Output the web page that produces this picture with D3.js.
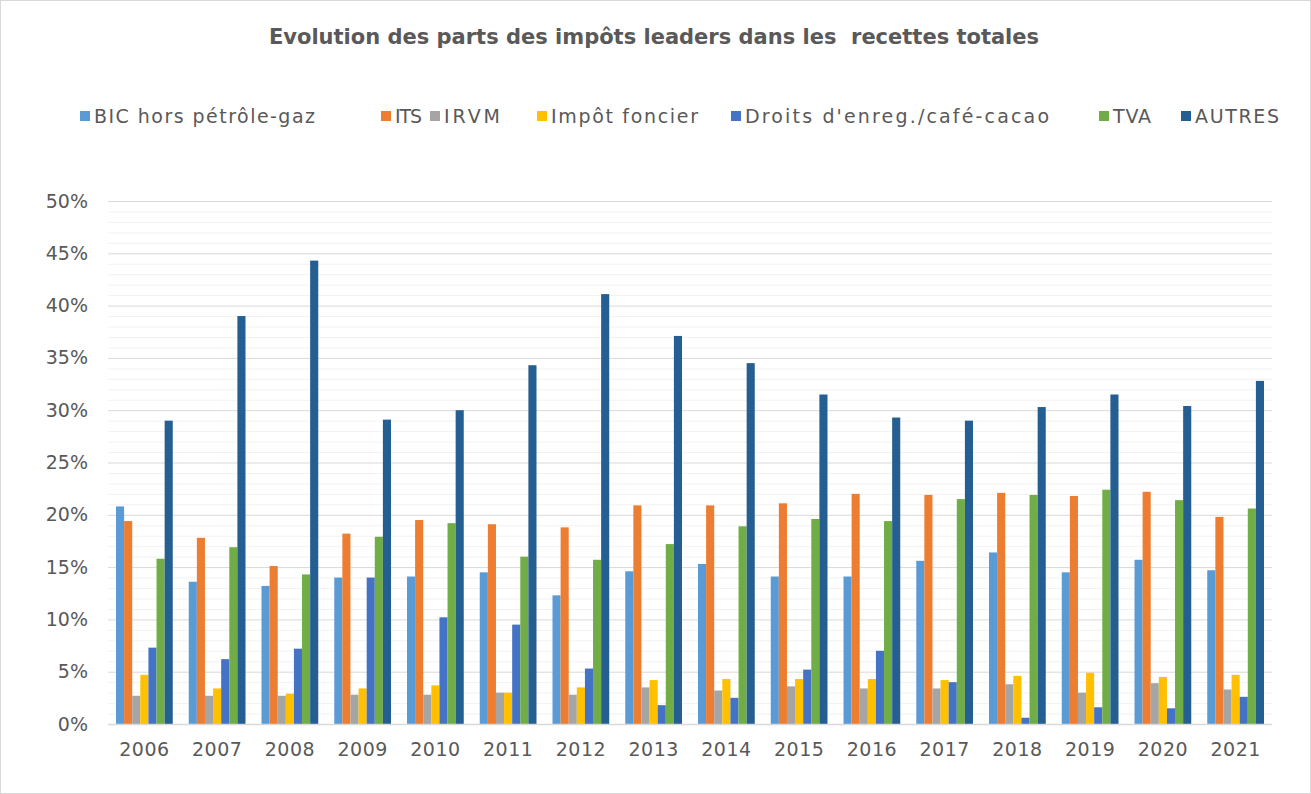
<!DOCTYPE html>
<html>
<head>
<meta charset="utf-8">
<script src="https://cdn.jsdelivr.net/npm/d3@7"></script>
<style>
  body { margin: 0; background: #fff; }
  svg { display: block; }
  text { font-family: "DejaVu Sans", sans-serif; fill: #595959; }
</style>
</head>
<body>
<svg class="chart" width="1311" height="794"></svg>
<script>
const years = ["2006", "2007", "2008", "2009", "2010", "2011", "2012", "2013",
  "2014", "2015", "2016", "2017", "2018", "2019", "2020", "2021"];

const seriesNames = ["BIC hors pétrôle-gaz", "ITS", "IRVM", "Impôt foncier",
  "Droits d'enreg./café-cacao", "TVA", "AUTRES"];

// values in %
const bic    = [20.8, 13.6, 13.2, 14.0, 14.1, 14.5, 12.3, 14.6, 15.3, 14.1, 14.1, 15.6, 16.4, 14.5, 15.7, 14.7];
const its    = [19.4, 17.8, 15.1, 18.2, 19.5, 19.1, 18.8, 20.9, 20.9, 21.1, 22.0, 21.9, 22.1, 21.8, 22.2, 19.8];
const irvm   = [2.7, 2.7, 2.7, 2.8, 2.8, 3.0, 2.8, 3.5, 3.2, 3.6, 3.4, 3.4, 3.8, 3.0, 3.9, 3.3];
const foncier = [4.7, 3.4, 2.9, 3.4, 3.7, 3.0, 3.5, 4.2, 4.3, 4.3, 4.3, 4.2, 4.6, 4.9, 4.5, 4.7];
const droits = [7.3, 6.2, 7.2, 14.0, 10.2, 9.5, 5.3, 1.8, 2.5, 5.2, 7.0, 4.0, 0.6, 1.6, 1.5, 2.6];
const tva    = [15.8, 16.9, 14.3, 17.9, 19.2, 16.0, 15.7, 17.2, 18.9, 19.6, 19.4, 21.5, 21.9, 22.4, 21.4, 20.6];
const autres = [29.0, 39.0, 44.3, 29.1, 30.0, 34.3, 41.1, 37.1, 34.5, 31.5, 29.3, 29.0, 30.3, 31.5, 30.4, 32.8];

const yTicks = [0, 5, 10, 15, 20, 25, 30, 35, 40, 45, 50];

const colors = ["#5b9bd5", "#ed7d31", "#a5a5a5", "#ffc000", "#4472c4", "#70ad47", "#255e91"];
const allSeries = [bic, its, irvm, foncier, droits, tva, autres];

const svg = d3.select(".chart");
const W = 1311, H = 794;

// outer frame
svg.append("rect")
  .attr("x", 0.5).attr("y", 0.5)
  .attr("width", W - 1).attr("height", H - 1)
  .attr("fill", "#fff").attr("stroke", "#d9d9d9");

const plot = { left: 108, right: 1272, top: 201, bottom: 724 };

const x0 = d3.scaleBand()
  .domain(years)
  .range([plot.left, plot.right])
  .paddingInner(0.22)
  .paddingOuter(0.11);

const x1 = d3.scaleBand()
  .domain(d3.range(seriesNames.length))
  .range([0, x0.bandwidth()]);

const y = d3.scaleLinear()
  .domain([0, 50])
  .range([plot.bottom, plot.top]);

// minor grid (1%)
svg.append("g")
  .selectAll("line")
  .data(d3.range(1, 50).filter((d) => d % 5 !== 0))
  .join("line")
  .attr("x1", plot.left).attr("x2", plot.right)
  .attr("y1", (d) => y(d) + 0.5).attr("y2", (d) => y(d) + 0.5)
  .attr("stroke", "#f2f2f2").attr("stroke-width", 1);

// major grid (5%)
svg.append("g")
  .selectAll("line")
  .data(yTicks)
  .join("line")
  .attr("x1", plot.left).attr("x2", plot.right)
  .attr("y1", (d) => y(d) + 0.5).attr("y2", (d) => y(d) + 0.5)
  .attr("stroke", "#d9d9d9").attr("stroke-width", 1);

// bars
const groups = svg.append("g")
  .selectAll("g")
  .data(years)
  .join("g")
  .attr("transform", (d) => `translate(${x0(d)},0)`);

groups.selectAll("rect")
  .data((d, i) => allSeries.map((s, k) => ({ k, v: s[i] })))
  .join("rect")
  .attr("x", (d) => x1(d.k))
  .attr("y", (d) => y(d.v))
  .attr("width", x1.bandwidth())
  .attr("height", (d) => y(0) - y(d.v))
  .attr("fill", (d) => colors[d.k]);

// baseline
svg.append("line")
  .attr("x1", plot.left).attr("x2", plot.right)
  .attr("y1", y(0) + 0.5).attr("y2", y(0) + 0.5)
  .attr("stroke", "#d9d9d9").attr("stroke-width", 1.5);

// y axis
const yAxis = svg.append("g")
  .attr("transform", `translate(${plot.left - 20},0)`)
  .call(d3.axisLeft(y).tickValues(yTicks).tickSize(0).tickFormat((d) => d + "%"));
yAxis.select(".domain").remove();
yAxis.selectAll("text")
  .attr("x", 0)
  .style("font-size", "19px")
  .attr("fill", "#595959");

// x axis
const xAxis = svg.append("g")
  .attr("transform", `translate(0,${plot.bottom})`)
  .call(d3.axisBottom(x0).tickSize(0));
xAxis.select(".domain").remove();
xAxis.selectAll("text")
  .attr("y", 19)
  .style("font-size", "19px")
  .style("letter-spacing", "0.5px")
  .attr("fill", "#595959");

// title
svg.append("text")
  .attr("x", 654).attr("y", 44)
  .attr("text-anchor", "middle")
  .style("font-size", "21px")
  .style("font-weight", "bold")
  .style("white-space", "pre")
  .attr("xml:space", "preserve")
  .text("Evolution des parts des impôts leaders dans les  recettes totales");

// legend (positions and label widths follow the reference layout)
const legendX = [80, 381, 430, 537, 731, 1099, 1181];
const legendW = [221, 27, 56, 147, 304, 38, 84];
const legend = svg.append("g")
  .selectAll("g")
  .data(seriesNames)
  .join("g")
  .attr("transform", (d, i) => `translate(${legendX[i]},116)`);

legend.append("rect")
  .attr("x", 0).attr("y", -5)
  .attr("width", 10).attr("height", 10)
  .attr("fill", (d, i) => colors[i]);

legend.append("text")
  .attr("x", 14).attr("y", 7)
  .style("font-size", "19px")
  .attr("textLength", (d, i) => legendW[i])
  .attr("lengthAdjust", "spacing")
  .text((d) => d);
</script>
</body>
</html>
